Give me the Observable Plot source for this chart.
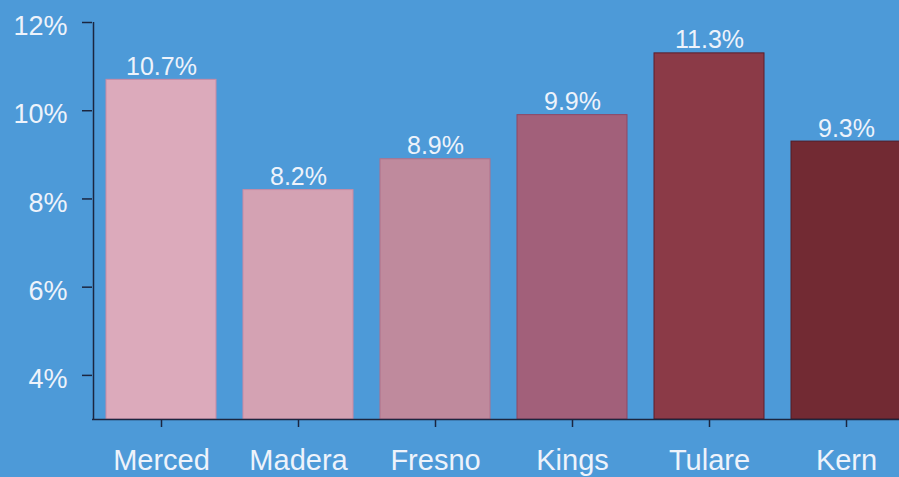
<!DOCTYPE html>
<html>
<head>
<meta charset="utf-8">
<script src="https://cdn.jsdelivr.net/npm/d3@7"></script>
<script src="https://cdn.jsdelivr.net/npm/@observablehq/plot@0.6"></script>
<style>
  html, body { margin: 0; padding: 0; background: #4d9ad8; overflow: hidden; }
  #chart svg { display: block; }
</style>
</head>
<body>
<div id="chart"></div>
<script>
const counties = ["Merced", "Madera", "Fresno", "Kings", "Tulare", "Kern"];
const rates = [10.7, 8.2, 8.9, 9.9, 11.3, 9.3];
const barColors = ["#dcaabb", "#d4a2b3", "#bf8a9d", "#a2607a", "#8b3a47", "#722a33"];
const edgeColors = ["#c98aa3", "#c98aa3", "#b0708a", "#8e4763", "#5c1c2a", "#551c24"];
const yTicks = [4, 6, 8, 10, 12];

const data = counties.map((c, i) => ({county: c, rate: rates[i], fill: barColors[i], edge: edgeColors[i]}));

const txt = "#eef3fb";
const dark = "#1b2640";

const chart = Plot.plot({
  width: 899,
  height: 477,
  marginTop: 22,
  marginBottom: 58,
  marginLeft: 92,
  marginRight: -15,
  style: {background: "#4d9ad8", fontFamily: "'Liberation Sans', Arial, sans-serif", overflow: "visible"},
  x: {domain: counties, paddingInner: 0.2, paddingOuter: 0.08},
  y: {domain: [3, 12]},
  marks: [
    Plot.barY(data, {x: "county", y1: 3, y2: "rate", fill: d => d.fill, stroke: d => d.edge, strokeWidth: 1}),
    Plot.text(data, {x: "county", y: "rate", text: d => d.rate.toFixed(1) + "%", dy: -13, fill: txt, fontSize: 25}),
    Plot.axisY(yTicks, {tickFormat: () => "", tickSize: 10, stroke: dark, strokeWidth: 1.5, label: null}),
    Plot.axisY(yTicks, {tickFormat: d => d + "%", tickSize: 0, tickPadding: 25, fontSize: 27, dy: 4, color: txt, label: null}),
    Plot.axisX({tickSize: 8, tickPadding: 22, fontSize: 29, color: txt, stroke: dark, strokeWidth: 1.5, label: null}),
    Plot.ruleY([3], {stroke: dark, strokeWidth: 1.5}),
    Plot.ruleX([counties[0]], {y1: 3, y2: 12, stroke: dark, strokeWidth: 1.5, dx: -68})
  ]
});
document.getElementById("chart").appendChild(chart);
</script>
</body>
</html>
